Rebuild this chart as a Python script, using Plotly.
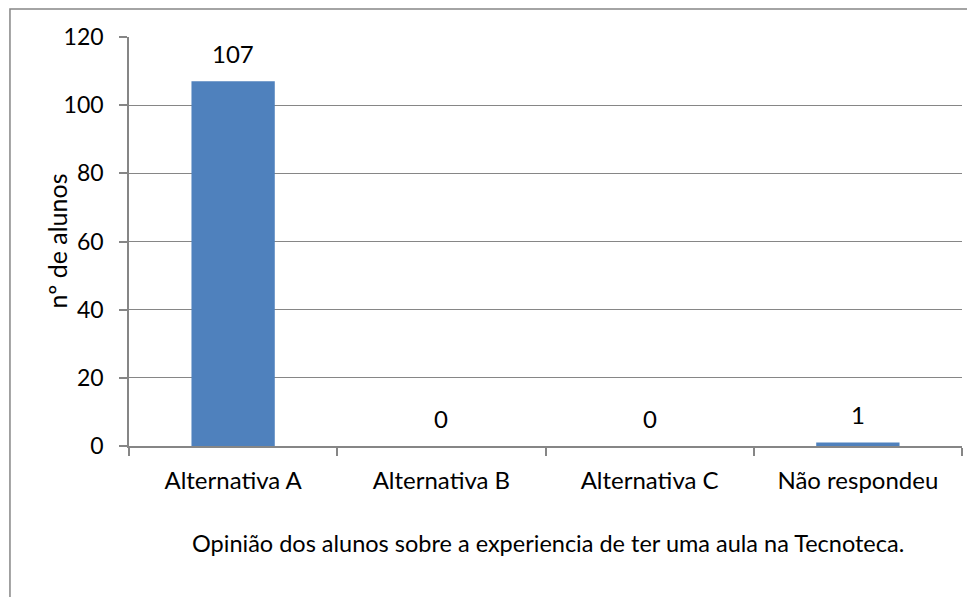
import plotly.graph_objects as go

# Data
categorias = ["Alternativa A", "Alternativa B", "Alternativa C", "Não respondeu"]
n_alunos = [107, 0, 0, 1]
y_ticks = [0, 20, 40, 60, 80, 100, 120]

titulo_x = "Opinião dos alunos sobre a experiencia de ter uma aula na Tecnoteca."
titulo_y = "nº de alunos"

FONT = "Lato"
GRID = "#868686"
BAR = "#4F81BD"

fig = go.Figure()

fig.add_trace(go.Bar(
    x=categorias,
    y=n_alunos,
    marker=dict(color=BAR, line=dict(width=0)),
    width=0.4,
    showlegend=False,
))

# value labels above each bar (Excel puts them a bit higher than plotly's "outside")
for cat, val in zip(categorias, n_alunos):
    fig.add_annotation(
        x=cat, y=val, text=str(val),
        showarrow=False, yanchor="middle", yshift=28,
        font=dict(family=FONT, size=24, color="black"),
    )

# the page body has an 8px margin, so the figure is shrunk by that amount
fig.update_layout(
    width=967,
    height=589,
    margin=dict(l=121, r=13, t=29, b=151),
    paper_bgcolor="white",
    plot_bgcolor="white",
    font=dict(family=FONT, size=24, color="black"),
    xaxis=dict(
        showline=True,
        linecolor=GRID,
        linewidth=1.5,
        ticks="outside",
        tickson="boundaries",
        ticklen=8,
        tickcolor=GRID,
        tickwidth=1.5,
        showgrid=False,
        tickfont=dict(family=FONT, size=24),
        ticklabelstandoff=12,
    ),
    yaxis=dict(
        range=[0, 120],
        tickvals=y_ticks,
        showline=True,
        linecolor=GRID,
        linewidth=1.5,
        ticks="outside",
        ticklen=8,
        tickcolor=GRID,
        tickwidth=1.5,
        showgrid=True,
        gridcolor=GRID,
        gridwidth=1.3,
        zeroline=False,
        tickfont=dict(family=FONT, size=23),
        ticklabelstandoff=11,
    ),
)

# axis titles as annotations so they sit where Excel put them
fig.add_annotation(
    xref="paper", yref="paper", x=-0.0876, y=0.5,
    text=titulo_y, textangle=-90, showarrow=False,
    xanchor="center", yanchor="middle",
    font=dict(family=FONT, size=25, color="black"),
)
fig.add_annotation(
    xref="paper", yref="paper", x=0.503, y=-0.236,
    text=titulo_x, showarrow=False,
    xanchor="center", yanchor="middle",
    font=dict(family=FONT, size=23.5, color="black"),
)

# chart-area border (only the top and left edges are visible in the crop)
fig.add_shape(
    type="rect", xref="paper", yref="paper",
    x0=-0.1429, x1=1.2, y0=-0.6, y1=1.0685,
    line=dict(color=GRID, width=1.5),
    layer="below",
)

fig.write_html("out.html")
